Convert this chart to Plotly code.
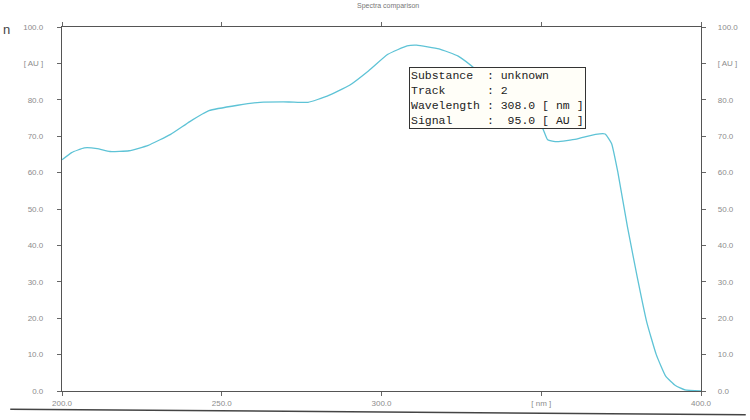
import plotly.graph_objects as go

# Absorption spectrum of the unknown substance, track 2
wavelength_nm = [200, 203, 207, 211, 215, 221, 227, 234, 240, 246, 255, 262, 271, 277,
                 283, 290, 296, 302, 308, 311, 318, 324, 330, 340, 350, 352, 355,
                 361, 367, 370, 372, 374, 377, 380, 383, 386, 389, 392, 395, 400]
signal_au = [63.5, 65.5, 66.8, 66.6, 65.8, 66.0, 67.5, 70.5, 74.0, 77.0, 78.5, 79.3, 79.4, 79.3,
             81.0, 84.0, 88.0, 92.5, 94.8, 95.0, 94.0, 92.0, 88.0, 80.0, 73.0, 69.0, 68.5,
             69.2, 70.5, 70.6, 68.0, 60.0, 45.0, 31.5, 19.0, 10.0, 4.0, 1.5, 0.3, 0.0]

x_ticks = [200, 250, 300, 350, 400]
x_tick_text = ["200.0", "250.0", "300.0", "[ nm ]", "400.0"]
y_ticks = [0, 10, 20, 30, 40, 50, 60, 70, 80, 90, 100]
y_tick_text = ["0.0", "10.0", "20.0", "30.0", "40.0", "50.0", "60.0", "70.0", "80.0", "[ AU ]", "100.0"]

info_rows = [("Substance", "unknown"), ("Track", "2"),
             ("Wavelength", "308.0 [ nm ]"), ("Signal", " 95.0 [ AU ]")]

line_color = "#5ec3d6"
label_font = dict(family="Liberation Sans, Arial", size=8, color="#8c8c8c")

fig = go.Figure()
fig.add_trace(go.Scatter(x=wavelength_nm, y=signal_au, mode="lines",
                         line=dict(color=line_color, width=1.3, shape="spline", smoothing=0.4),
                         hoverinfo="skip", showlegend=False))
# same spectrum on the right-hand scale so that axis is drawn
fig.add_trace(go.Scatter(x=wavelength_nm, y=signal_au, mode="lines", yaxis="y2",
                         line=dict(color=line_color, width=0), opacity=0,
                         hoverinfo="skip", showlegend=False))

info_text = "<br>".join(
    (name.ljust(10) + " : " + value).replace(" ", "\u00a0") for name, value in info_rows)

fig.add_annotation(x=0.543, y=0.89, xref="paper", yref="paper", xanchor="left", yanchor="top",
                   text=info_text, showarrow=False, align="left",
                   font=dict(family="Liberation Mono, Courier New, monospace", size=11.5, color="#222"),
                   bgcolor="#fffef8", bordercolor="#333", borderwidth=1, borderpad=1)

fig.add_annotation(x=0.51, y=1.075, xref="paper", yref="paper", text="Spectra comparison",
                   showarrow=False, font=dict(family="Liberation Sans, Arial", size=7, color="#777"))
fig.add_annotation(x=-0.095, y=1.02, xref="paper", yref="paper", text="n", xanchor="left",
                   showarrow=False, font=dict(family="Liberation Sans, Arial", size=13, color="#444"))

# ruled line under the chart
fig.add_shape(type="line", xref="paper", yref="paper", x0=-0.081, x1=1.07, y0=-0.05, y1=-0.065,
              line=dict(color="#444", width=1.5))

axis_common = dict(showgrid=False, zeroline=False, showline=True, linecolor="#555", linewidth=1.3,
                   ticks="outside", ticklen=4, tickcolor="#666", tickfont=label_font)

fig.update_layout(
    width=750, height=420,
    margin=dict(l=62, r=45, t=27, b=29),
    paper_bgcolor="white", plot_bgcolor="white",
    xaxis=dict(range=[200, 400], tickvals=x_ticks, ticktext=x_tick_text, mirror="ticks",
               ticklabelstandoff=0, **axis_common),
    yaxis=dict(range=[0, 100], tickvals=y_ticks, ticktext=y_tick_text,
               ticklabelstandoff=12, **axis_common),
    yaxis2=dict(range=[0, 100], tickvals=y_ticks, ticktext=y_tick_text, overlaying="y",
                side="right", ticklabelstandoff=10, **axis_common),
)

fig.write_html("out.html")
